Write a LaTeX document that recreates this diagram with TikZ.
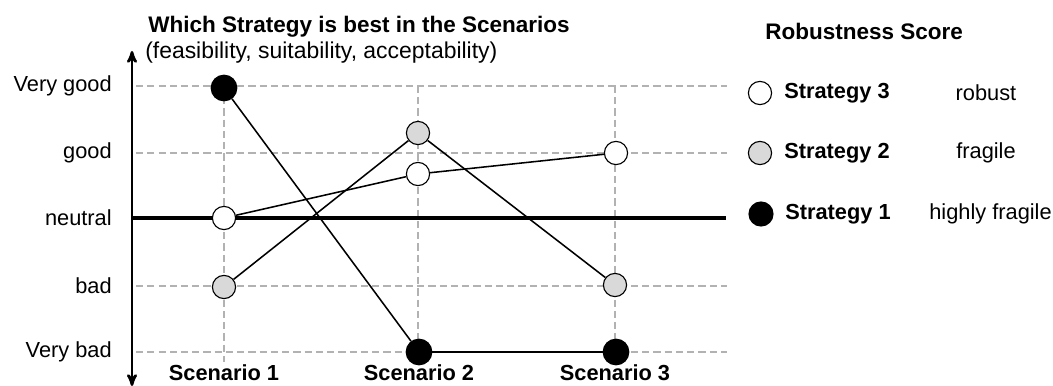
\documentclass[tikz,border=0pt]{standalone}
\usepackage{fontspec}
\setmainfont{Liberation Sans}
\usetikzlibrary{arrows}

\begin{document}
\begin{tikzpicture}[x=0.025cm,y=-0.025cm,>=stealth',
  label node/.style={font=\fontsize{15.5}{18}\selectfont,inner sep=0pt},
  head node/.style={label node,font=\fontsize{15.5}{18}\selectfont\bfseries},
  dot/.style={circle,draw,line width=0.8pt,minimum size=0.58cm,inner sep=0pt},
  s1 node/.style={dot,fill=black,minimum size=0.64cm},
  s2 node/.style={dot,fill=black!15},
  s3 node/.style={dot,fill=white},
  grid line/.style={black!30,line width=0.9pt,dash pattern=on 5pt off 3pt},
  link/.style={line width=1.1pt}]
  \useasboundingbox (0,0) rectangle (1053,386);
  % grid
  \foreach \y in {86,153,286,352}
    \draw[grid line] (136,\y) -- (727,\y);
  \foreach \x in {224,418,615}
    \draw[grid line] (\x,86) -- (\x,362);
  \coordinate (ytop) at (132,51);
  \coordinate (ybot) at (132,386);
  \coordinate (nleft) at (132,218);
  \coordinate (nright) at (726,218);
  \draw[line width=2.2pt] (nleft) -- (nright);
  \draw[<->,line width=1.8pt] (ybot) -- (ytop);
  % titles
  \node[head node,anchor=west,font=\fontsize{16}{18}\selectfont\bfseries] (title) at (148,27) {Which Strategy is best in the Scenarios};
  \node[label node,anchor=west,font=\fontsize{16.3}{18}\selectfont] (sub) at (145,53) {(feasibility, suitability, acceptability)};
  \node[head node,anchor=west,font=\fontsize{16}{18}\selectfont\bfseries] (score) at (765,31) {Robustness Score};
  % value labels
  \node[label node,anchor=east] (vg) at (112,86)  {Very good};
  \node[label node,anchor=east] (g)  at (112,153) {good};
  \node[label node,anchor=east] (n)  at (112,218) {neutral};
  \node[label node,anchor=east] (b)  at (112,286) {bad};
  \node[label node,anchor=east] (vb) at (112,352) {Very bad};
  \node[head node,anchor=base] (sc1) at (224,381) {Scenario 1};
  \node[head node,anchor=base] (sc2) at (419,381) {Scenario 2};
  \node[head node,anchor=base] (sc3) at (615,381) {Scenario 3};
  % strategies
  \node[s1 node] (1a) at (224,88)  {};
  \node[s1 node] (1b) at (419,352) {};
  \node[s1 node] (1c) at (616,352) {};
  \node[s2 node] (2a) at (224,287) {};
  \node[s2 node] (2b) at (418,133) {};
  \node[s2 node] (2c) at (615,285) {};
  \node[s3 node] (3a) at (224,218) {};
  \node[s3 node] (3b) at (418,174) {};
  \node[s3 node] (3c) at (616,153) {};
  \path[link]
    (1a) edge (1b)
    (1b) edge (1c)
    (2a) edge (2b)
    (2b) edge (2c)
    (3a) edge (3b)
    (3b) edge (3c);
  % legend
  \node[s3 node] (l3) at (760,93)  {};
  \node[s2 node] (l2) at (760,153) {};
  \node[s1 node,minimum size=0.6cm] (l1) at (761,214) {};
  \node[head node,anchor=west] (t3) at (784,93)  {Strategy 3};
  \node[head node,anchor=west] (t2) at (784,153) {Strategy 2};
  \node[head node,anchor=west] (t1) at (785,214) {Strategy 1};
  \node[label node] (r3) at (986,93)  {robust};
  \node[label node] (r2) at (986,153) {fragile};
  \node[label node,anchor=east] (r1) at (1052,214) {highly fragile};
\end{tikzpicture}
\end{document}
